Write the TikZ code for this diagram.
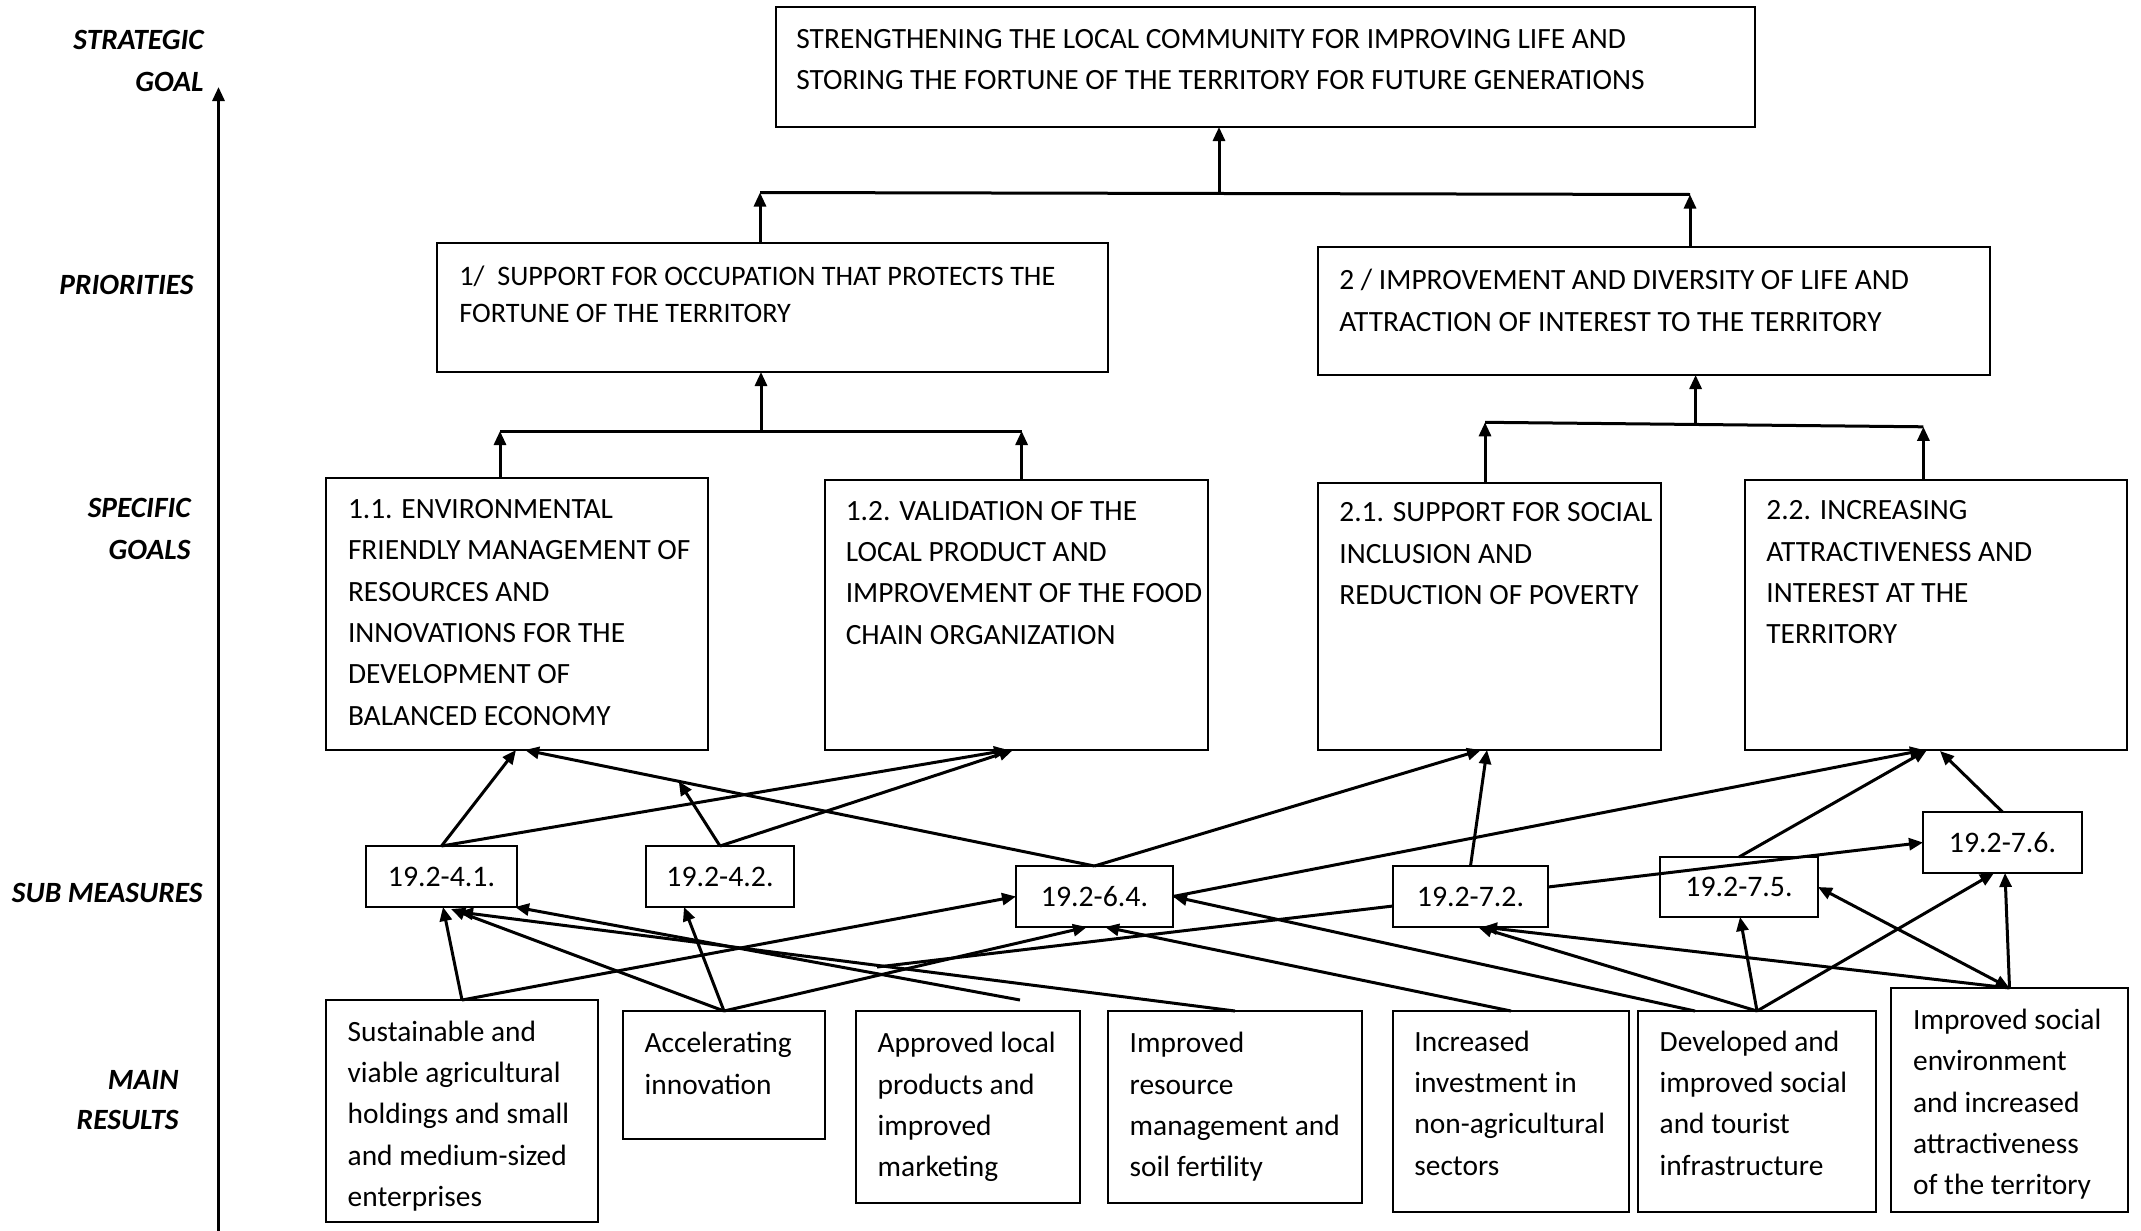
\documentclass[tikz,border=0pt]{standalone}
\usepackage{fontspec}
\setmainfont{Carlito}
\usetikzlibrary{arrows.meta,calc,fit}
\newcommand{\fs}{\fontsize{14.7pt}{20.65pt}\selectfont}
\newcommand{\fsp}{\fontsize{14.1pt}{18.35pt}\selectfont}
\newcommand{\fsm}{\fontsize{14.9pt}{18pt}\selectfont}
\begin{document}
\begin{tikzpicture}[x=0.5pt,y=-0.5pt,
  box/.style={draw, line width=1pt, inner sep=0pt, outer sep=0pt, rectangle},
  txt/.style={anchor=north west, inner sep=0pt, align=left, font=\fs, execute at begin node=\strut},
  smt/.style={inner sep=0pt, font=\fsm},
  lbl/.style={anchor=east, inner sep=0pt, font=\fs\bfseries\itshape},
  arr/.style={line width=1.5pt, -{Triangle[length=7pt,width=6pt]}},
  arrtwo/.style={line width=1.5pt, {Triangle[length=7pt,width=6pt]}-{Triangle[length=7pt,width=6pt]}},
  con/.style={line width=1.5pt},
]
\fill[white] (0,0) rectangle (2141,1231);
\useasboundingbox (0,0) rectangle (2141,1231);

% level labels
\node[lbl] (lsg1) at (204,40) {STRATEGIC};
\node[lbl] (lsg2) at (204,82) {GOAL};
\node[lbl] (lpr) at (194,285) {PRIORITIES};
\node[lbl] (lsp1) at (191,508) {SPECIFIC};
\node[lbl] (lsp2) at (191,550) {GOALS};
\node[lbl] (lsm) at (203,893) {SUB MEASURES};
\node[lbl] (lmr1) at (179,1080) {MAIN};
\node[lbl] (lmr2) at (179,1120) {RESULTS};
\coordinate (axb) at (218.5,1231);
\coordinate (axt) at (218.5,87);
\draw[arr] (axb) -- (axt);

% strategic goal
\node[box, fit={(776,7) (1755,127)}] (sg) {};
\node[txt] (sgt) at (796,29.1) {STRENGTHENING THE LOCAL COMMUNITY FOR IMPROVING LIFE AND\\STORING THE FORTUNE OF THE TERRITORY FOR FUTURE GENERATIONS};

% priorities
\node[box, fit={(437,243) (1108,372)}] (p1) {};
\node[txt, font=\fsp] (p1t) at (459,265.8) {1/\ \ SUPPORT FOR OCCUPATION THAT PROTECTS THE\\FORTUNE OF THE TERRITORY};
\node[box, fit={(1318,247) (1990,375)}] (p2) {};
\node[txt] (p2t) at (1339,268.9) {2 / IMPROVEMENT AND DIVERSITY OF LIFE AND\\ATTRACTION OF INTEREST TO THE TERRITORY};

% specific goals
\node[box, fit={(326,478) (708,750)}] (g11) {};
\node[txt] (g11t) at (347.6,499.2) {1.1. ENVIRONMENTAL\\FRIENDLY MANAGEMENT OF\\RESOURCES AND\\INNOVATIONS FOR THE\\DEVELOPMENT OF\\BALANCED ECONOMY};
\node[box, fit={(825,480) (1207.5,750)}] (g12) {};
\node[txt] (g12t) at (845.4,500.9) {1.2. VALIDATION OF THE\\LOCAL PRODUCT AND\\IMPROVEMENT OF THE FOOD\\CHAIN ORGANIZATION};
\node[box, fit={(1318,482.6) (1661,750)}] (g21) {};
\node[txt] (g21t) at (1339,502.5) {2.1. SUPPORT FOR SOCIAL\\INCLUSION AND\\REDUCTION OF POVERTY};
\node[box, fit={(1744.5,480) (2127,750)}] (g22) {};
\node[txt] (g22t) at (1766,500.3) {2.2. INCREASING\\ATTRACTIVENESS AND\\INTEREST AT THE\\TERRITORY};

% sub measures
\node[box, fit={(366,846) (517,907)}] (s41) {};
\node[smt] (s41t) at (s41.center) {19.2-4.1.};
\node[box, fit={(646,846) (794,907)}] (s42) {};
\node[smt] (s42t) at (s42.center) {19.2-4.2.};
\node[box, fit={(1016,866) (1173,927)}] (s64) {};
\node[smt] (s64t) at (s64.center) {19.2-6.4.};
\node[box, fit={(1393,866) (1548,927)}] (s72) {};
\node[smt] (s72t) at (s72.center) {19.2-7.2.};
\node[box, fit={(1660,857) (1818,917)}] (s75) {};
\node[smt] (s75t) at (s75.center) {19.2-7.5.};
\node[box, fit={(1923,812) (2082,873)}] (s76) {};
\node[smt] (s76t) at (s76.center) {19.2-7.6.};

% main results
\node[box, fit={(326,1000) (598,1222)}] (r1) {};
\node[txt] (r1t) at (347.3,1020.4) {Sustainable and\\viable agricultural\\holdings and small\\and medium-sized\\enterprises};
\node[box, fit={(623,1011) (825,1139)}] (r2) {};
\node[txt] (r2t) at (644.3,1032.1) {Accelerating\\innovation};
\node[box, fit={(856,1011) (1080,1203)}] (r3) {};
\node[txt] (r3t) at (877.3,1032.1) {Approved local\\products and\\improved\\marketing};
\node[box, fit={(1108,1011) (1362,1203)}] (r4) {};
\node[txt] (r4t) at (1129.3,1032.1) {Improved\\resource\\management and\\soil fertility};
\node[box, fit={(1393,1011) (1629,1212)}] (r5) {};
\node[txt] (r5t) at (1414,1030.4) {Increased\\investment in\\non-agricultural\\sectors};
\node[box, fit={(1638,1011) (1876,1212)}] (r6) {};
\node[txt] (r6t) at (1659.3,1030.4) {Developed and\\improved social\\and tourist\\infrastructure};
\node[box, fit={(1891,988) (2128,1212)}] (r7) {};
\node[txt] (r7t) at (1912.7,1008.7) {Improved social\\environment\\and increased\\attractiveness\\of the territory};

% hierarchy connectors
\coordinate (h1L) at (760,192.5);
\coordinate (h1R) at (1690,194.5);
\coordinate (h1M) at (1219,193.5);
\draw[con] (h1L) -- (h1R);
\draw[arr] (h1M) -- (h1M |- sg.south);
\draw[arr] (h1L |- p1.north) -- (h1L);
\draw[arr] (h1R |- p2.north) -- (h1R);

\coordinate (h2L) at (500,431);
\coordinate (h2R) at (1021.6,431);
\coordinate (h2M) at (761,431);
\draw[con] (h2L) -- (h2R);
\draw[arr] (h2M) -- (h2M |- p1.south);
\draw[arr] (h2L |- g11.north) -- (h2L);
\draw[arr] (h2R |- g12.north) -- (h2R);

\coordinate (h3L) at (1485,422.3);
\coordinate (h3R) at (1923.4,426.8);
\coordinate (h3M) at (1695.6,424.5);
\draw[con] (h3L) -- (h3R);
\draw[arr] (h3M) -- (h3M |- p2.south);
\draw[arr] (h3L |- g21.north) -- (h3L);
\draw[arr] (h3R |- g22.north) -- (h3R);

% sub measures -> specific goals
\coordinate (g11a) at (516,750);
\coordinate (g11b) at (525,750);
\coordinate (g12a) at (1008,750);
\coordinate (g12b) at (1013,750);
\coordinate (g21a) at (1481,750);
\coordinate (g21b) at (1487,750);
\coordinate (g22a) at (1924,750);
\coordinate (g22b) at (1927,750);
\coordinate (g22c) at (1940,751);
\draw[arr] (s41.north) -- (g11a);
\draw[arr] (s41.north) -- (g12a);
\draw[arr] (s42.north) -- (g12b);
\draw[arr] (s64.north) -- (g11b);
\coordinate (m1) at ($(s64.north)!0.73!(g11b)$);
\draw[arr] (s42.north) -- (m1);
\draw[arr] (s64.north) -- (g21a);
\draw[arr] (s72.north) -- (g21b);
\draw[arr] (s64.east) -- (g22a);
\draw[arr] (s75.north) -- (g22b);
\draw[arr] (s76.north) -- (g22c);
\coordinate (s72e) at (1548,887);
\draw[arr] (s72e) -- (s76.west);
\coordinate (s72w) at (1393,906);
\coordinate (f1) at (877,967);
\draw[con] (s72w) -- (f1);

% main results -> sub measures
\coordinate (s41a) at (443,907);
\coordinate (s41b) at (451,909);
\coordinate (s41c) at (459,912);
\coordinate (s41d) at (515,907);
\coordinate (s42a) at (684,907);
\coordinate (s64a) at (1087,927);
\coordinate (s64b) at (1105,927);
\coordinate (s72a) at (1478,927);
\coordinate (s72b) at (1483,927);
\coordinate (s75a) at (1740,917);
\coordinate (s76a) at (1994,873);
\coordinate (s76b) at (2005,873);
\coordinate (r3f) at (1020,1000);
\coordinate (r6a) at (1695,1011);
\draw[arr] (r1.north) -- (s41a);
\draw[arr] (r1.north) -- (s64.west);
\draw[arr] (r2.north) -- (s41b);
\draw[arr] (r2.north) -- (s42a);
\draw[arr] (r2.north) -- (s64a);
\draw[arr] (r3f) -- (s41d);
\draw[arr] (r4.north) -- (s41c);
\draw[arr] (r5.north) -- (s64b);
\draw[arr] (r6a) -- (s64.east);
\draw[arr] (r6.north) -- (s72a);
\draw[arr] (r6.north) -- (s75a);
\draw[arr] (r6.north) -- (s76a);
\draw[arr] (r7.north) -- (s72b);
\draw[arrtwo] (r7.north) -- (s75.east);
\draw[arr] (r7.north) -- (s76b);
\end{tikzpicture}
\end{document}
